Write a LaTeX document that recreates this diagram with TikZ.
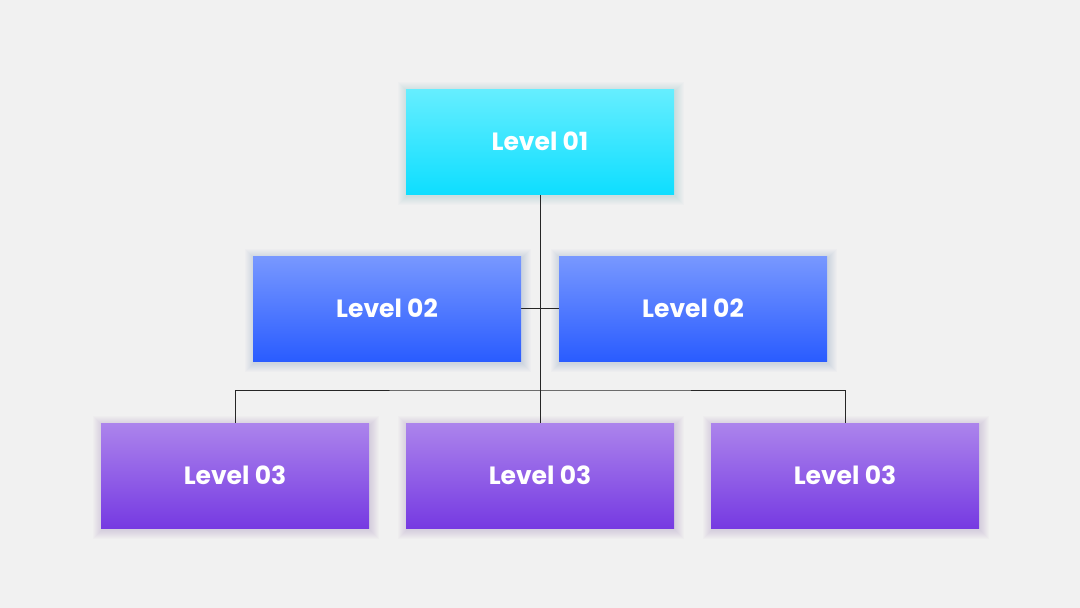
\documentclass[tikz,border=0pt]{standalone}
\usepackage{fontspec}
\setmainfont{Poppins}
\usepackage{tikz}
\definecolor{pagebg}{RGB}{241,241,241}
\definecolor{cyantop}{RGB}{102,238,255}
\definecolor{cyanbot}{RGB}{14,222,255}
\definecolor{bluetop}{RGB}{120,152,255}
\definecolor{bluebot}{RGB}{42,92,255}
\definecolor{violettop}{RGB}{172,132,236}
\definecolor{violetbot}{RGB}{118,58,226}
\pgfdeclarelayer{canvas}
\pgfdeclarelayer{glow}
\pgfdeclarelayer{wires}
\pgfsetlayers{canvas,glow,wires,main}
% soft halo round a box, drawn under it
\newcommand\halo[2]{%
  \begin{pgfonlayer}{glow}
    \foreach \k in {1,...,9}{
      \fill[#2,opacity=0.014]
        ([shift={(-\k+1,-\k+2)}]#1.north west) rectangle
        ([shift={(\k+1,\k+2)}]#1.south east);}
  \end{pgfonlayer}}

\begin{document}
\begin{tikzpicture}[x=1pt,y=-1pt,
    box/.style={minimum width=268pt,minimum height=105pt,inner sep=0pt,
      text=white,font=\fontsize{25}{30}\selectfont\bfseries},
    lvlone/.style={box,top color=cyantop,bottom color=cyanbot},
    lvltwo/.style={box,top color=bluetop,bottom color=bluebot},
    lvlthree/.style={box,top color=violettop,bottom color=violetbot},
    link/.style={draw=black!85,line width=0.9pt}]
  % --- canvas ---
  \begin{pgfonlayer}{canvas}
    \fill[pagebg] (0,0) rectangle (1080,608);
  \end{pgfonlayer}
  \useasboundingbox (0,0) rectangle (1080,608);
  % --- level 1 ---
  \node[lvlone] (top) at (540,141.5) {Level 01};
  \halo{top}{cyanbot!50!black}
  % --- level 2 ---
  \node[lvltwo] (midl) at (387,308.5) {Level 02};
  \node[lvltwo] (midr) at (693,308.5) {Level 02};
  \halo{midl}{bluebot!50!black} \halo{midr}{bluebot!50!black}
  % --- level 3 ---
  \foreach \x/\n in {235/a,540/b,845/c}{
    \node[lvlthree] (low\n) at (\x,475.5) {Level 03};
    \halo{low\n}{violetbot!50!black}}
  % --- connectors, behind the boxes ---
  \coordinate (bus) at (540,390);
  \begin{pgfonlayer}{wires}
    \draw[link] (top.south) -- (lowb.north);
    \draw[link] (midl.east) -- (midr.west);
    \draw[link] (lowa.north) |- (bus) -| (lowc.north);
  \end{pgfonlayer}
\end{tikzpicture}
\end{document}
